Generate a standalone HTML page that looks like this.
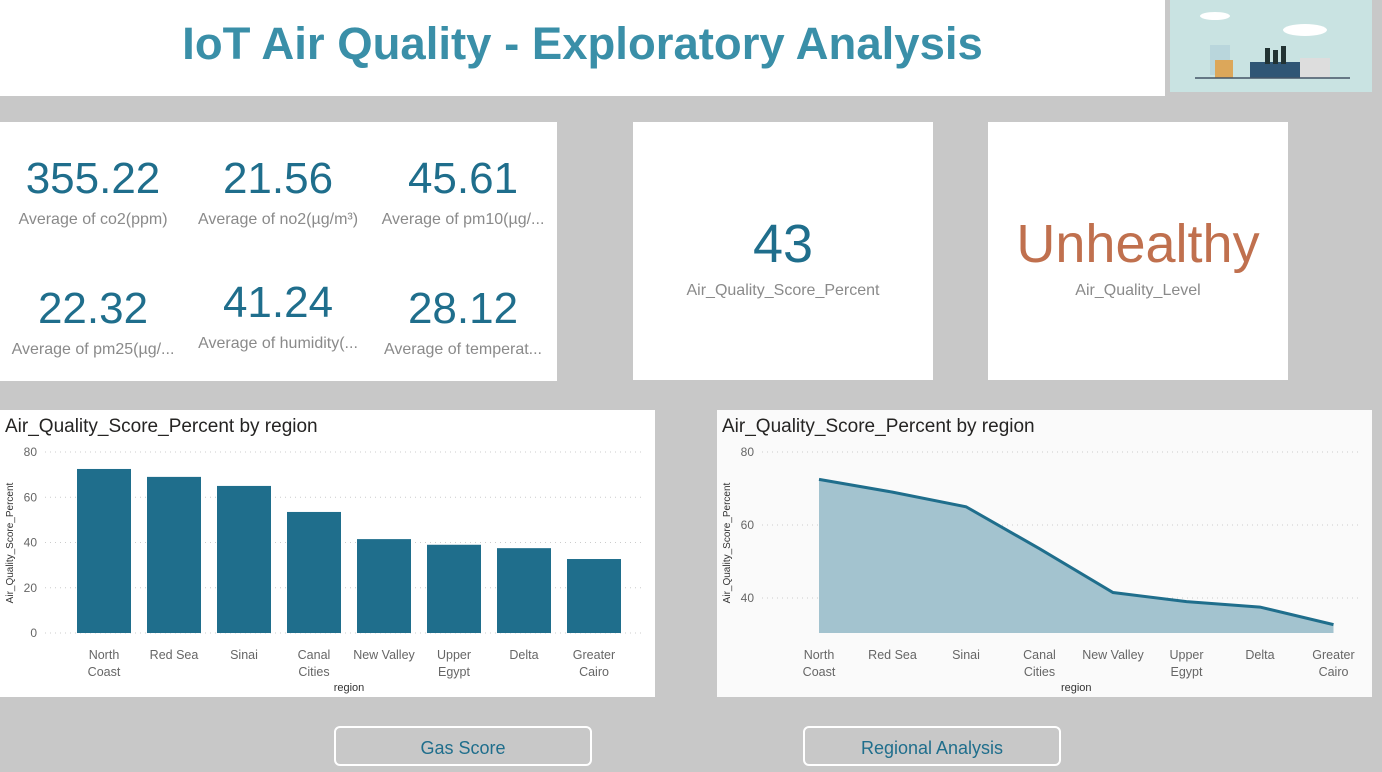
<!DOCTYPE html>
<html><head><meta charset="utf-8"><style>
body{margin:0;width:1382px;height:772px;background:#c8c8c8;font-family:"Liberation Sans",sans-serif;position:relative;overflow:hidden}
.abs{position:absolute}
.card{position:absolute;background:#fff}
.kv{position:absolute;width:186px;text-align:center;color:#1f6e8c}
.kv .n{font-size:44px;line-height:48px}
.kv .l{font-size:16px;color:#8a8a8a;white-space:nowrap;overflow:hidden;margin-top:8px}
.btn{position:absolute;top:726px;width:258px;height:40px;border:2px solid #fff;border-radius:6px;background:#c8c8c8;color:#1f6e8c;font-size:18px;text-align:center;line-height:40px;box-sizing:border-box}
</style></head><body>
<div class="card" style="left:0;top:0;width:1165px;height:96px">
<div style="position:absolute;left:0;width:1165px;top:18px;text-align:center;font-size:45.5px;font-weight:bold;color:#3a8fa8">IoT Air Quality - Exploratory Analysis</div></div>
<div class="abs" style="left:1170px;top:0;width:202px;height:92px;background:#c9e3e2">
<svg width="202" height="92"><ellipse cx="45" cy="16" rx="15" ry="4" fill="#fff"/><ellipse cx="135" cy="30" rx="22" ry="6" fill="#fff"/><rect x="40" y="45" width="20" height="30" fill="#b9d6dc"/><rect x="45" y="60" width="18" height="18" fill="#dca75a"/><rect x="80" y="62" width="50" height="16" fill="#2f5675"/><rect x="95" y="48" width="5" height="16" fill="#233"/><rect x="103" y="50" width="5" height="14" fill="#233"/><rect x="111" y="46" width="5" height="18" fill="#233"/><rect x="130" y="58" width="30" height="20" fill="#ddd"/><line x1="25" y1="78" x2="180" y2="78" stroke="#456" stroke-width="1.5"/></svg></div>
<div class="card" style="left:0;top:122px;width:557px;height:259px">
<div class="kv" style="left:0;top:33px"><div class="n">355.22</div><div class="l">Average of co2(ppm)</div></div>
<div class="kv" style="left:185px;top:33px"><div class="n">21.56</div><div class="l">Average of no2(µg/m³)</div></div>
<div class="kv" style="left:370px;top:33px"><div class="n">45.61</div><div class="l">Average of pm10(µg/...</div></div>
<div class="kv" style="left:0;top:163px"><div class="n">22.32</div><div class="l">Average of pm25(µg/...</div></div>
<div class="kv" style="left:185px;top:157px"><div class="n">41.24</div><div class="l">Average of humidity(...</div></div>
<div class="kv" style="left:370px;top:163px"><div class="n">28.12</div><div class="l">Average of temperat...</div></div>
</div>
<div class="card" style="left:633px;top:122px;width:300px;height:258px;text-align:center">
<div style="margin-top:92px;font-size:54px;color:#1f6e8c;line-height:60px">43</div><div style="font-size:16px;color:#8a8a8a;margin-top:8px">Air_Quality_Score_Percent</div></div>
<div class="card" style="left:988px;top:122px;width:300px;height:258px;text-align:center">
<div style="margin-top:92px;font-size:54px;color:#c0704e;line-height:60px">Unhealthy</div><div style="font-size:16px;color:#8a8a8a;margin-top:8px">Air_Quality_Level</div></div>
<div class="card" style="left:0;top:410px;width:655px;height:287px"></div>
<div class="card" style="left:717px;top:410px;width:655px;height:287px;background:#fafafa"></div>
<svg id="charts" class="abs" style="left:0;top:0" width="1382" height="772" font-family="Liberation Sans, sans-serif"></svg>
<div class="btn" style="left:334px">Gas Score</div>
<div class="btn" style="left:803px">Regional Analysis</div>
<script>
const regions=[["North","Coast"],["Red Sea"],["Sinai"],["Canal","Cities"],["New Valley"],["Upper","Egypt"],["Delta"],["Greater","Cairo"]];
const scores=[72.5,69,65,53.5,41.5,39,37.5,32.7];
const barTicks=[0,20,40,60,80];
const lineTicks=[40,60,80];
const svg=document.getElementById('charts');const NS='http://www.w3.org/2000/svg';
function mk(t,a,txt){const e=document.createElementNS(NS,t);for(const k in a)e.setAttribute(k,a[k]);if(txt!==undefined)e.textContent=txt;svg.appendChild(e);return e;}
function chart(ox,kind){
  const bottom=633,top=452;
  const step=kind==='bar'?70:73.5, first=kind==='bar'?ox+104:ox+102;
  const ymin=kind==='bar'?0:30.4,ymax=80;
  const y=v=>bottom-(v-ymin)/(ymax-ymin)*(bottom-top);
  const xc=i=>first+i*step;
  let t=mk('text',{x:ox+5,y:432,'font-size':19,fill:'#252423'},'Air_Quality_Score_Percent by region');
  
  const ticks=kind==='bar'?barTicks:lineTicks;
  ticks.forEach(v=>{
    let g=mk('line',{x1:ox+45,x2:ox+645,y1:y(v),y2:y(v),stroke:'#ccc','stroke-dasharray':'1 4'});
    
    let l=mk('text',{x:ox+37,y:y(v)+4,'font-size':12,fill:'#666','text-anchor':'end'},v);
    
  });
  let yt=mk('text',{transform:`translate(${ox+13},543) rotate(-90)`,'font-size':10,fill:'#333','text-anchor':'middle'},'Air_Quality_Score_Percent');
  
  let xt=mk('text',{x:(xc(0)+xc(7))/2,y:691,'font-size':11,fill:'#333','text-anchor':'middle'},'region');
  
  regions.forEach((r,i)=>r.forEach((s,j)=>{
    let e=mk('text',{x:xc(i),y:659+j*17,'font-size':12.5,fill:'#666','text-anchor':'middle'},s);
    
  }));
  if(kind==='bar'){
    scores.forEach((v,i)=>{
      let b=mk('rect',{x:xc(i)-27,y:y(v),width:54,height:bottom-y(v),fill:'#1f6e8c'});
      
      
    });
  }else{
    const pts=scores.map((v,i)=>xc(i)+','+y(v)).join(' ');
    let a=mk('polygon',{points:xc(0)+','+bottom+' '+pts+' '+xc(scores.length-1)+','+bottom,fill:'#a3c3cf'});
    
    let l=mk('polyline',{points:pts,fill:'none',stroke:'#1f6e8c','stroke-width':3});
    
  }
}
chart(0,'bar');chart(717,'line');
</script>
</body></html>
